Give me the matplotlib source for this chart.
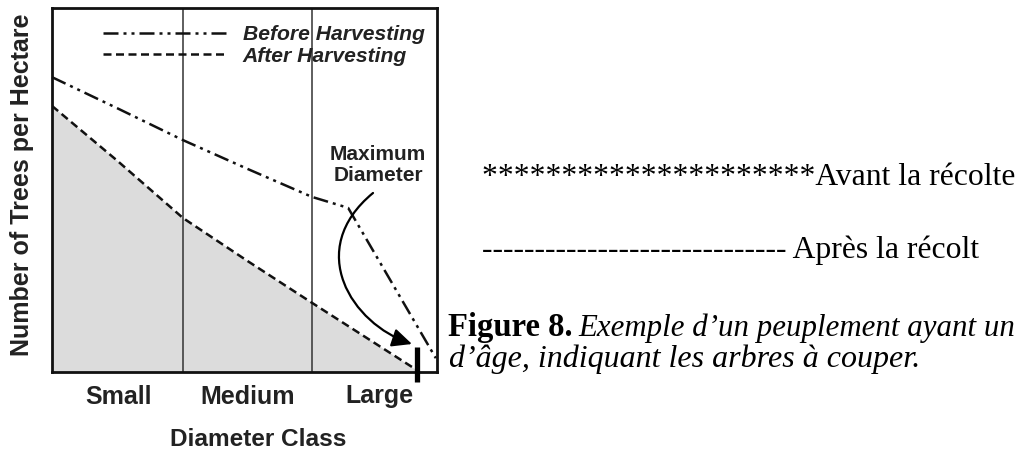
import matplotlib
matplotlib.use("Agg")
import matplotlib.pyplot as plt
from matplotlib.patches import FancyArrowPatch
from matplotlib.path import Path

# ---- data ----
class_labels = ["Small", "Medium", "Large"]
class_centers = [0.5, 1.5, 2.52]
class_edges = [1.0, 2.0]

before_x = [-0.0155, 0.5, 1.0, 1.5, 2.0, 2.28, 2.96]
before_y = [81.0, 72.3, 63.7, 55.8, 48.1, 45.1, 3.8]

after_x = [-0.0155, 0.492, 1.0, 1.5, 2.0, 2.814]
after_y = [73.1, 58.0, 42.3, 30.5, 19.0, 0.5]

max_diameter = 2.814
max_bar_y = [-2.7, 6.9]

legend_labels = ["Before Harvesting", "After Harvesting"]
x_title = "Diameter Class"
y_title = "Number of Trees per Hectare"
note_text = "Maximum\nDiameter"

# ---- figure ----
W, H = 1021, 453
fig = plt.figure(figsize=(W / 100, H / 100), dpi=100)
fig.patch.set_facecolor("white")
ax = fig.add_axes([52 / W, (H - 372) / H, 385 / W, 364 / H])
ax.set_xlim(-0.0155, 2.969)
ax.set_ylim(0, 100)

sans = "Liberation Sans"
serif = "Liberation Serif"

ax.fill_between(after_x, after_y, 0, color="#dcdcdc", lw=0, zorder=1)
for e in class_edges:
    ax.axvline(e, color="#333333", lw=1.1, zorder=2)

lw = 1.8
l1, = ax.plot(before_x, before_y, color="#111111", lw=lw,
              linestyle=(0, (6, 2, 1.2, 2, 1.2, 2)), zorder=3,
              label=legend_labels[0], clip_on=False)
l2, = ax.plot(after_x, after_y, color="#111111", lw=lw,
              linestyle=(0, (3.2, 1.8)), zorder=3, label=legend_labels[1])

# maximum-diameter marker
ax.plot([max_diameter, max_diameter], max_bar_y, color="black", lw=3.8,
        solid_capstyle="butt", clip_on=False, zorder=4)

# curved arrow
verts = [(2.473, 49.18), (1.938, 33.52), (2.310, 13.19), (2.775, 7.69)]
arrow = FancyArrowPatch(path=Path(verts, [Path.MOVETO, Path.CURVE4, Path.CURVE4, Path.CURVE4]),
                        arrowstyle="-|>,head_length=0.6,head_width=0.28",
                        mutation_scale=20, lw=1.6, color="black", zorder=5)
ax.add_patch(arrow)

ax.text(2.512, 56.8, note_text, ha="center", va="center", fontsize=15,
        fontweight="bold", family=sans, color="#222222", linespacing=1.1, zorder=5)

leg = ax.legend(handles=[l1, l2], loc="upper left", bbox_to_anchor=(0.1325, 0.953),
                frameon=False, borderpad=0, borderaxespad=0, handlelength=5.9,
                handletextpad=0.72, labelspacing=0.12,
                prop={"family": sans, "weight": "bold", "style": "italic", "size": 15.2})
for t in leg.get_texts():
    t.set_color("#222222")

for s in ax.spines.values():
    s.set_linewidth(2.0)
    s.set_color("#111111")

ax.set_yticks([])
ax.set_xticks(class_centers, class_labels)
ax.tick_params(axis="x", length=0, pad=9)
for t in ax.get_xticklabels():
    t.set_fontfamily(sans)
    t.set_fontweight("bold")
    t.set_fontsize(18)
    t.set_color("#222222")

ax.set_xlabel(x_title, fontsize=17.6, fontweight="bold", family=sans, color="#222222")
ax.xaxis.set_label_coords(0.535, -0.153)
ax.set_ylabel(y_title, fontsize=18, fontweight="bold", family=sans, color="#222222", va="center")
ax.yaxis.set_label_coords(-0.078, 0.514)

# ---- right-hand text ----
def px(x, y):
    return x / W, 1 - y / H

fig.text(*px(482, 185), "*" * 21 + "Avant la récolte", family=serif, fontsize=22.8,
         va="baseline", ha="left", color="black")
fig.text(*px(482, 258), "-" * 29 + " Après la récolt", family=serif, fontsize=22.8,
         va="baseline", ha="left", color="black")
fig.text(*px(448, 336), "Figure 8.", family=serif, fontsize=23.5, fontweight="bold",
         va="baseline", ha="left", color="black")
fig.text(*px(578, 336), "Exemple d’un peuplement ayant un", family=serif, fontsize=22.2,
         style="italic", va="baseline", ha="left", color="black")
fig.text(*px(449, 367), "d’âge, indiquant les arbres à couper.", family=serif, fontsize=23,
         style="italic", va="baseline", ha="left", color="black")

fig.savefig("out.png", dpi=100, facecolor="white")
